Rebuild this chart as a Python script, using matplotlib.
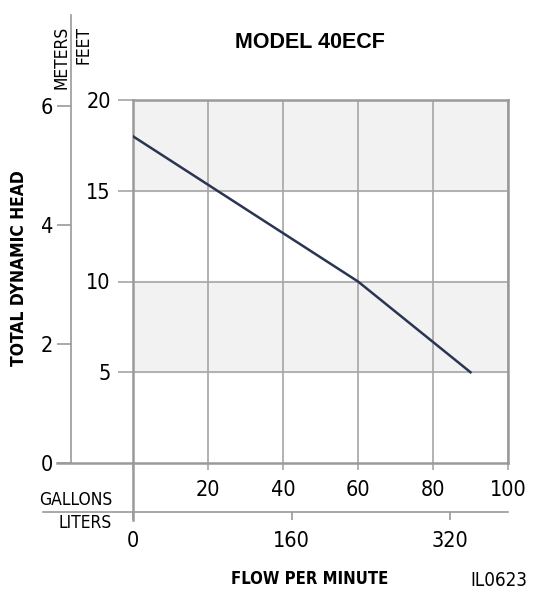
import matplotlib.pyplot as plt
from matplotlib import font_manager

# pump curve, model 40ECF
flow_gpm = [0, 60, 90]
head_ft = [18, 10, 5]

gallon_ticks = [20, 40, 60, 80, 100]
liter_ticks = [0, 160, 320]
feet_ticks = [5, 10, 15, 20]
meter_ticks = [0, 2, 4, 6]
shaded_bands = [(5, 10), (15, 20)]

FT_TO_M = 0.3048
GAL_TO_L = 3.78541

has_cond = any(f.name == "DejaVu Sans" and f.stretch == "condensed"
               for f in font_manager.fontManager.ttflist)
plt.rcParams["font.family"] = ["DejaVu Sans"]
plt.rcParams["font.stretch"] = "condensed" if has_cond else "normal"

W, H = 538, 590
fig = plt.figure(figsize=(W / 100, H / 100), dpi=100)


def box(x0, y0, x1, y1):
    # pixel box (top-left origin) -> figure fraction
    return [x0 / W, 1 - y1 / H, (x1 - x0) / W, (y1 - y0) / H]


grid_c = "#a6a6a6"
spine_c = "#9a9a9a"
dark = "#3a3a3a"
tick_fs = 15.5

ax = fig.add_axes(box(133, 100, 508, 463))
ax.set_xlim(0, 100)
ax.set_ylim(0, 20)
for lo, hi in shaded_bands:
    ax.axhspan(lo, hi, color="#f2f2f2", zorder=0)
ax.set_xticks([0] + gallon_ticks)
ax.set_xticklabels([""] + [str(t) for t in gallon_ticks])
ax.set_yticks(feet_ticks)
ax.grid(True, color=grid_c, lw=1.2, zorder=1)
ax.set_axisbelow(True)
for s in ax.spines.values():
    s.set_color(spine_c)
    s.set_linewidth(1.8)
ax.tick_params(axis="x", direction="out", length=5, width=1.2, color=grid_c,
               pad=7, labelsize=tick_fs)
ax.tick_params(axis="y", direction="out", length=11, width=1.2, color=grid_c,
               pad=5, labelsize=tick_fs)
for t in ax.yaxis.get_major_ticks():
    if t.get_loc() >= 15:
        t.tick1line.set_color(dark)

ax.plot(flow_gpm, head_ft, color="#2b3452", lw=1.8, zorder=3)

# baseline running left to the meters scale
x_m = (57 - 133) / 375
ax.plot([x_m, 0], [0, 0], transform=ax.transAxes, color=spine_c, lw=1.8,
        clip_on=False)

# meters scale
top_px = 15
ax_m = fig.add_axes(box(71, top_px, 72, 463))
ax_m.set_ylim(0, 20 * FT_TO_M * (463 - top_px) / (463 - 100))
for k in ("top", "right", "bottom"):
    ax_m.spines[k].set_visible(False)
ax_m.spines["left"].set_color(spine_c)
ax_m.spines["left"].set_linewidth(1.2)
ax_m.set_xticks([])
ax_m.set_yticks(meter_ticks)
ax_m.tick_params(axis="y", direction="out", length=10, width=1.2, color=spine_c,
                 pad=3, labelsize=tick_fs)
ax_m.patch.set_visible(False)

# liters scale
ax_l = fig.add_axes(box(133, 511, 508, 512))
ax_l.set_xlim(0, 100 * GAL_TO_L)
for k in ("top", "right", "left"):
    ax_l.spines[k].set_visible(False)
ax_l.spines["bottom"].set_color(spine_c)
ax_l.spines["bottom"].set_linewidth(1.2)
ax_l.set_yticks([])
ax_l.set_xticks(liter_ticks)
ax_l.tick_params(axis="x", direction="out", length=6, width=1.2, color=spine_c,
                 pad=8, labelsize=tick_fs)
ax_l.patch.set_visible(False)
ax_l.plot([(43 - 133) / 375, 0], [0, 0], transform=ax_l.transAxes,
          color=spine_c, lw=1.2, clip_on=False)
# left spine carried down through both flow scales
ax.plot([0, 0], [0, -(520 - 463) / 363], transform=ax.transAxes,
        color=spine_c, lw=1.8, clip_on=False)

fig.text(112 / W, 1 - 500 / H, "GALLONS", ha="right", va="center", fontsize=12.5)
fig.text(112 / W, 1 - 523 / H, "LITERS", ha="right", va="center", fontsize=12.5)
fig.text(61 / W, 1 - 26 / H, "METERS", ha="center", va="top", rotation=90,
         fontsize=12.5)
fig.text(84 / W, 1 - 26 / H, "FEET", ha="center", va="top", rotation=90,
         fontsize=12.5)
fig.text(19 / W, 1 - 268 / H, "TOTAL DYNAMIC HEAD", ha="center", va="center",
         rotation=90, fontsize=12.5, fontweight="bold")
fig.text(310 / W, 1 - 42 / H, "MODEL 40ECF", ha="center", va="center",
         fontsize=15.5, fontweight="bold", family="Liberation Sans",
         stretch="normal")
fig.text(310 / W, 1 - 579 / H, "FLOW PER MINUTE", ha="center", va="center",
         fontsize=12, fontweight="bold")
fig.text(527 / W, 1 - 580 / H, "IL0623", ha="right", va="center", fontsize=13.5)

fig.savefig("out.png", dpi=100)
